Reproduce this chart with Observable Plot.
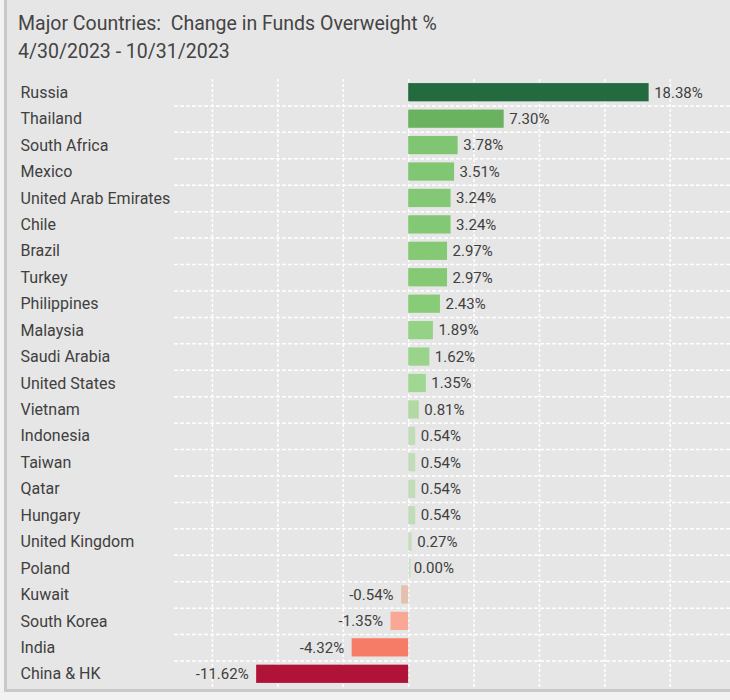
<!DOCTYPE html>
<html>
<head>
<meta charset="utf-8">
<script src="https://cdn.jsdelivr.net/npm/d3@7"></script>
<script src="https://cdn.jsdelivr.net/npm/@observablehq/plot@0.6"></script>
<style>
  html, body { margin: 0; padding: 0; background: #f2f2f2; }
  #wrap { position: relative; width: 730px; height: 700px; overflow: hidden; font-family: Roboto, "Noto Sans", sans-serif; }
  #card { position: absolute; left: 4px; top: 0; width: 740px; height: 689px; background: #e6e6e6;
          border-left: 3px solid #c9c9c9; border-bottom: 3px solid #c9c9c9; }
  #title { position: absolute; left: 18px; top: 10px; font-size: 19.5px; color: #444; line-height: 28px; white-space: pre; }
  #chart { position: absolute; left: 0; top: 66px; }
  #chart svg { background: transparent; }
</style>
</head>
<body>
<div id="wrap">
  <div id="card"></div>
  <div id="title">Major Countries:  Change in Funds Overweight %
4/30/2023 - 10/31/2023</div>
  <div id="chart"></div>
</div>
<script>
const countries = ["Russia","Thailand","South Africa","Mexico","United Arab Emirates","Chile","Brazil","Turkey","Philippines","Malaysia","Saudi Arabia","United States","Vietnam","Indonesia","Taiwan","Qatar","Hungary","United Kingdom","Poland","Kuwait","South Korea","India","China & HK"];
const values = [18.38,7.30,3.78,3.51,3.24,3.24,2.97,2.97,2.43,1.89,1.62,1.35,0.81,0.54,0.54,0.54,0.54,0.27,0.00,-0.54,-1.35,-4.32,-11.62];
const xTicks = [-15,-10,-5,0,5,10,15,20];
const colorStops = [-11.62,-4.32,-1.35,-0.54,0,0.54,0.81,1.35,2.43,7.30,18.38];
const colorRange = ["#b01238","#f67c68","#f9a896","#e6c0ae","#cfdcc6","#c0dcb8","#b2d9a4","#a0d792","#88cc78","#6ab160","#236b3f"];

const data = countries.map((c, i) => ({country: c, value: values[i]}));
const fmt = v => v.toFixed(2) + "%";
const txt = "#404040";

const chart = Plot.plot({
  width: 730,
  height: 625,
  marginLeft: 174,
  marginRight: 0,
  marginTop: 13,
  marginBottom: 4,
  style: {fontFamily: "Roboto, 'Noto Sans', sans-serif", fontSize: "15px", background: "transparent"},
  x: {domain: [-17.9, 24.6], axis: null},
  y: {domain: countries, axis: null, paddingInner: 0.31, paddingOuter: 0.155, round: false},
  color: {type: "linear", domain: colorStops, range: colorRange, interpolate: "rgb"},
  marks: [
    Plot.gridX(xTicks, {stroke: "#ffffff", strokeOpacity: 1, strokeWidth: 1.5, strokeDasharray: "3,2"}),
    Plot.ruleY(countries.slice(0, -1), {y: d => d, dy: 13.2, stroke: "#ffffff", strokeOpacity: 1, strokeWidth: 1.5, strokeDasharray: "4,2"}),
    Plot.barX(data, {x: "value", y: "country", fill: "value"}),
    Plot.tickX(data.filter(d => d.value === 0), {x: "value", y: "country", stroke: "value", strokeWidth: 2, dx: 1}),
    Plot.text(data.filter(d => d.value >= 0), {x: "value", y: "country", text: d => fmt(d.value), textAnchor: "start", dx: 5, fill: txt}),
    Plot.text(data.filter(d => d.value < 0), {x: "value", y: "country", text: d => fmt(d.value), textAnchor: "end", dx: -8, fill: txt}),
    Plot.text(data, {y: "country", text: "country", frameAnchor: "left", textAnchor: "start", dx: -154, fill: txt, fontSize: 16})
  ]
});
document.getElementById("chart").appendChild(chart);
</script>
</body>
</html>
